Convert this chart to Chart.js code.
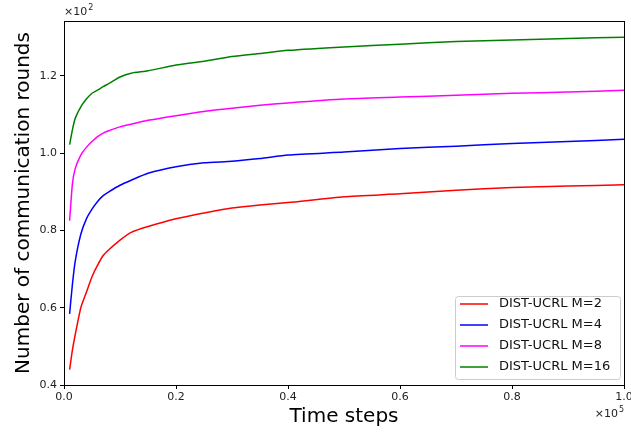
<!DOCTYPE html>
<html>
<head>
<meta charset="utf-8">
<script src="https://cdn.jsdelivr.net/npm/chart.js@4"></script>
<style>
  body { margin: 0; background: #fff; }
  canvas { display: block; }
</style>
</head>
<body>
<canvas id="chart" width="631" height="434"></canvas>
<script>
// Time steps (x 10^5)
const steps = [0.01, 0.015, 0.02, 0.03, 0.04, 0.05, 0.06, 0.07, 0.08, 0.1, 0.12, 0.15, 0.2, 0.25, 0.3, 0.35, 0.4, 0.5, 0.6, 0.7, 0.8, 0.9, 1.0];

// Communication rounds (x 10^2)
const roundsM2  = [0.44, 0.49, 0.53, 0.60, 0.64, 0.68, 0.71, 0.735, 0.75, 0.775, 0.795, 0.81, 0.83, 0.845, 0.858, 0.866, 0.872, 0.887, 0.895, 0.904, 0.911, 0.915, 0.918];
const roundsM4  = [0.584, 0.66, 0.72, 0.79, 0.83, 0.855, 0.875, 0.89, 0.90, 0.917, 0.93, 0.948, 0.965, 0.975, 0.979, 0.986, 0.995, 1.003, 1.012, 1.018, 1.025, 1.030, 1.036];
const roundsM8  = [0.825, 0.92, 0.96, 0.995, 1.015, 1.03, 1.043, 1.052, 1.058, 1.068, 1.075, 1.085, 1.097, 1.108, 1.116, 1.124, 1.130, 1.140, 1.145, 1.150, 1.155, 1.158, 1.163];
const roundsM16 = [1.022, 1.06, 1.09, 1.12, 1.14, 1.155, 1.163, 1.172, 1.18, 1.197, 1.207, 1.213, 1.228, 1.238, 1.250, 1.258, 1.266, 1.275, 1.282, 1.289, 1.293, 1.297, 1.300];

const xTicks = [0, 0.2, 0.4, 0.6, 0.8, 1.0];
const yTicks = [0.4, 0.6, 0.8, 1.0, 1.2];

const seriesNames = ['DIST-UCRL M=2', 'DIST-UCRL M=4', 'DIST-UCRL M=8', 'DIST-UCRL M=16'];
const seriesColors = ['#ff0000', '#0000ff', '#ff00ff', '#008000'];
const seriesValues = [roundsM2, roundsM4, roundsM8, roundsM16];

const FONT = 'DejaVu Sans, sans-serif';

// bordure + texte d'offset + légende façon matplotlib
const decorPlugin = {
    id: 'decor',
    afterDraw(chart) {
        const { ctx, chartArea: a } = chart;
        ctx.save();
        ctx.strokeStyle = '#000';
        ctx.lineWidth = 1;
        ctx.strokeRect(a.left + 0.5, a.top + 0.5, a.right - a.left, a.bottom - a.top);

        // ×10^2 en haut à gauche
        ctx.fillStyle = '#222';
        ctx.textBaseline = 'alphabetic';
        ctx.textAlign = 'left';
        ctx.font = '11px ' + FONT;
        const w10 = ctx.measureText('×10').width;
        ctx.fillText('×10', a.left, a.top - 6);
        ctx.font = '8px ' + FONT;
        ctx.fillText('2', a.left + w10 + 1, a.top - 11);

        // ×10^5 en bas à droite
        ctx.font = '11px ' + FONT;
        ctx.fillText('×10', a.right - w10 - 6, 417);
        ctx.font = '8px ' + FONT;
        ctx.fillText('5', a.right - 5, 412);

        // légende
        const bx = 455, by = 296, bw = 165, bh = 83;
        ctx.fillStyle = 'rgba(255,255,255,0.85)';
        ctx.strokeStyle = '#ccc';
        ctx.beginPath();
        ctx.roundRect(bx + 0.5, by + 0.5, bw, bh, 3);
        ctx.fill();
        ctx.stroke();
        ctx.font = '13px ' + FONT;
        ctx.textBaseline = 'middle';
        chart.data.datasets.forEach((ds, i) => {
            const yy = by + 8 + i * 21;
            ctx.strokeStyle = ds.borderColor;
            ctx.lineWidth = 1.5;
            ctx.beginPath();
            ctx.moveTo(bx + 5, yy);
            ctx.lineTo(bx + 33, yy);
            ctx.stroke();
            ctx.fillStyle = '#111';
            ctx.fillText(ds.label, bx + 44, yy);
        });
        ctx.restore();
    }
};

new Chart(document.getElementById('chart'), {
    type: 'scatter',
    data: {
        datasets: seriesValues.map((vals, i) => ({
            label: seriesNames[i],
            data: steps.map((x, j) => ({ x: x, y: vals[j] })),
            showLine: true,
            borderColor: seriesColors[i],
            backgroundColor: seriesColors[i],
            borderWidth: 1.5,
            pointRadius: 0,
            tension: 0.2
        }))
    },
    options: {
        responsive: false,
        animation: false,
        layout: { padding: { top: 21, right: 7, left: 0, bottom: 0 } },
        plugins: {
            legend: { display: false },
            tooltip: { enabled: false }
        },
        scales: {
            x: {
                type: 'linear',
                min: 0,
                max: 1.0,
                afterFit: s => { s.height = 49; s.paddingRight = 0; s.paddingLeft = 0; },
                afterBuildTicks: s => { s.ticks = xTicks.map(v => ({ value: v })); },
                grid: { drawOnChartArea: false, tickLength: 4, color: '#000', drawTicks: true },
                border: { display: false },
                ticks: {
                    color: '#222',
                    font: { family: FONT, size: 11 },
                    padding: 2,
                    callback: v => v.toFixed(1)
                },
                title: {
                    display: true,
                    text: 'Time steps',
                    color: '#000',
                    font: { family: FONT, size: 20 },
                    padding: { top: 0, bottom: 5 }
                }
            },
            y: {
                type: 'linear',
                min: 0.4,
                max: 1.342,
                afterFit: s => { s.width = 64; },
                afterBuildTicks: s => { s.ticks = yTicks.map(v => ({ value: v })); },
                grid: { drawOnChartArea: false, tickLength: 4, color: '#000' },
                border: { display: false },
                ticks: {
                    color: '#222',
                    font: { family: FONT, size: 11 },
                    padding: 3,
                    callback: v => v.toFixed(1)
                },
                title: {
                    display: true,
                    text: 'Number of communication rounds',
                    color: '#000',
                    font: { family: FONT, size: 20 },
                    padding: { top: 12, bottom: 4 }
                }
            }
        }
    },
    plugins: [decorPlugin]
});
</script>
</body>
</html>
